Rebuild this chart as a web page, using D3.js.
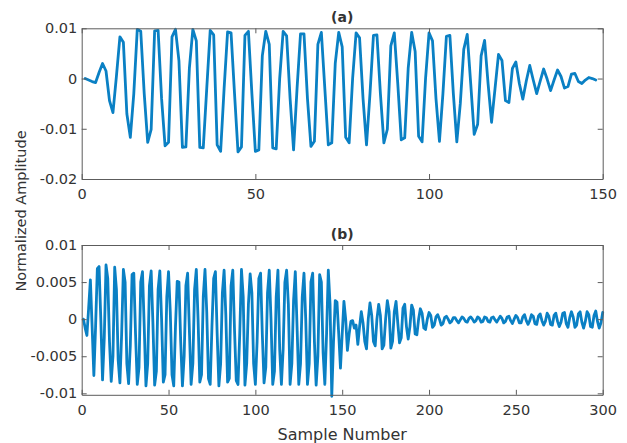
<!DOCTYPE html>
<html>
<head>
<meta charset="utf-8">
<script src="https://cdn.jsdelivr.net/npm/d3@7"></script>
<style>
  body { margin: 0; background: #fff; }
  svg { display: block; }
  text { font-family: "DejaVu Sans", sans-serif; fill: #333; }
</style>
</head>
<body>
<svg id="chart" width="627" height="443"></svg>
<script>
// Normalized amplitude per sample, stored in thousandths (x1e-3).
// Panel (a): samples 1..148
const amplitudeA = [
  0.0, -0.3, -0.6, -0.8, 1.2, 3.0, 1.5, -4.4, -6.8, 0.5,
  8.3, 7.2, -7.0, -11.7, -3.0, 9.8, 9.4, -3.0, -12.7, -10.1,
  9.5, 9.6, -4.0, -13.4, -12.7, 8.3, 9.8, 3.5, -13.7, -13.6,
  2.0, 9.8, 7.5, -13.7, -13.8, -2.0, 9.6, 8.7, -13.2, -14.5,
  -2.0, 9.3, 9.1, -3.0, -14.6, -13.6, 8.6, 9.4, -3.0, -14.5,
  -14.2, 4.5, 9.4, 6.8, -13.8, -14.0, 0.0, 9.4, 8.5, -4.0,
  -14.2, -2.0, 8.9, 8.9, -4.0, -13.5, -12.5, 6.8, 9.2, -2.0,
  -13.2, -12.8, 3.0, 9.2, 6.3, -11.7, -12.8, 0.0, 9.1, 8.1,
  -4.0, -13.2, -3.0, 8.6, 8.7, -3.0, -12.8, -10.1, 6.5, 9.1,
  -1.0, -12.2, -11.8, 2.0, 9.2, 5.4, -11.5, -12.6, 0.0, 9.1,
  7.5, -4.0, -12.5, -3.0, 8.4, 8.6, -3.0, -12.6, -5.0, 5.8,
  8.8, -1.0, -11.1, -9.1, 4.5, 7.6, -1.0, -8.7, -2.0, 4.8,
  3.6, -4.4, -4.8, 2.0, 3.3, -1.0, -4.1, -0.5, 2.6, -0.3,
  -3.0, -0.5, 1.9, -0.1, -2.4, -0.3, 1.7, 0.4, -1.9, -1.6,
  0.9, 1.0, -0.6, -1.0, -0.3, 0.2, 0.0, -0.3
];

// Panel (b): samples 1..300
const amplitudeB = [
  0.0, -1.2, -2.2, 1.5, 5.3, -1.0, -7.6, -1.0, 6.8, 7.1,
  0.0, -8.2, -2.5, 7.3, 5.5, -3.0, -8.4, -5.0, 7.0, 4.0,
  -5.5, -8.6, -2.0, 6.7, 5.0, -6.0, -8.7, -3.5, 6.0, 6.2,
  -2.0, -8.8, -6.5, 5.0, 6.4, -1.0, -9.0, -6.0, 4.5, 6.5,
  -0.5, -8.9, -7.0, 4.0, 6.5, 0.0, -8.5, -7.5, 3.0, 6.4,
  1.0, -7.5, -9.0, -1.0, 5.1, 5.0, -3.0, -9.0, -5.0, 4.5,
  6.2, -1.5, -8.8, -6.0, 4.0, 6.7, 0.0, -8.5, -7.5, 3.0,
  6.7, 1.0, -8.0, -8.8, -1.0, 5.5, 6.4, -2.0, -9.0, -6.0,
  3.5, 6.6, 0.5, -8.5, -8.0, 4.5, 6.6, -1.5, -8.3, -8.8,
  -2.0, 6.7, 3.0, -8.9, -6.0, 2.0, 6.1, 3.5, -6.0, -8.8,
  -3.0, 5.5, 6.2, -2.0, -8.6, -6.5, 3.5, 6.6, 0.0, -8.8,
  -7.0, 3.0, 6.6, -4.0, -8.8, -4.0, 5.0, 6.6, 2.0, -8.8,
  -6.0, 2.5, 6.4, -1.0, -8.8, -6.0, 3.0, 6.2, 0.0, -8.8,
  -6.0, 5.0, 6.2, -3.0, -8.9, -5.0, 6.0, 5.0, -4.5, -8.8,
  -2.0, 6.6, 2.0, -10.4, -3.0, 2.5, 2.3, -2.0, -6.6, -2.0,
  2.4, 0.0, -4.2, -2.0, -0.3, -0.2, -1.2, -0.8, -3.4, -1.0,
  1.0, -0.5, -3.0, -4.0, 0.0, 2.2, 0.5, -3.0, -3.6, 0.0,
  2.0, 0.5, -4.0, -3.5, 0.0, 2.5, 1.0, -3.9, -3.0, 1.0,
  2.4, -0.5, -3.2, -2.5, 1.5, 2.0, -1.0, -2.7, -1.0, 1.9,
  1.2, -2.0, -2.1, 0.0, 1.4, 0.8, -1.2, -1.4, 0.0, 0.9,
  0.5, -1.1, -0.8, 0.3, 0.6, 0.0, -0.8, -0.6, 0.2, 0.4,
  0.0, -0.5, -0.3, 0.2, 0.2, -0.2, -0.5, -0.1, 0.3, 0.1,
  -0.3, -0.4, 0.1, 0.3, 0.0, -0.4, -0.2, 0.3, 0.1, -0.4,
  -0.3, 0.3, 0.2, -0.3, -0.4, 0.2, 0.3, -0.1, -0.4, 0.0,
  0.4, 0.1, -0.5, -0.3, 0.3, 0.4, -0.2, -0.6, 0.0, 0.5,
  0.2, -0.5, -0.5, 0.3, 0.6, -0.2, -0.7, -0.2, 0.6, 0.4,
  -0.6, -0.7, 0.4, 0.7, -0.2, -0.8, -0.3, 0.8, 0.4, -0.7,
  -0.8, 0.5, 0.8, -0.3, -1.0, -0.4, 0.8, 0.9, -0.6, -1.1,
  0.2, 1.0, 0.3, -1.1, -0.8, 0.7, 1.0, -0.4, -1.2, -0.3,
  1.0, 0.6, -1.0, -1.1, 0.5, 1.1, -0.3, -1.2, -0.5, 0.9
];

// Axis ticks and their labels
const xTicksA = [0, 50, 100, 150];
const yTicksA = [-0.02, -0.01, 0, 0.01];
const yTickLabelsA = ["-0.02", "-0.01", "0", "0.01"];
const xTicksB = [0, 50, 100, 150, 200, 250, 300];
const yTicksB = [-0.01, -0.005, 0, 0.005, 0.01];
const yTickLabelsB = ["-0.01", "-0.005", "0", "0.005", "0.01"];

const titles = ["(a)", "(b)"];
const xLabel = "Sample Number";
const yLabel = "Normalized Amplitude";

const lineColor = "#0a80c4";
const axisColor = "#5c5c5c";

const svg = d3.select("#chart");

const plotLeft = 81.7, plotRight = 602.7;

const panels = [
  {
    values: amplitudeA, xMax: 150, yDomain: [-0.02, 0.01],
    top: 28.3, bottom: 179,
    xTicks: xTicksA, yTicks: yTicksA, yLabels: yTickLabelsA,
    title: titles[0], titleY: 22
  },
  {
    values: amplitudeB, xMax: 300, yDomain: [-0.0102, 0.01],
    top: 245, bottom: 394.8,
    xTicks: xTicksB, yTicks: yTicksB, yLabels: yTickLabelsB,
    title: titles[1], titleY: 239
  }
];

panels.forEach(p => {
  const x = d3.scaleLinear().domain([0, p.xMax]).range([plotLeft, plotRight]);
  const y = d3.scaleLinear().domain(p.yDomain).range([p.bottom, p.top]);
  const g = svg.append("g");

  // waveform
  const line = d3.line()
    .x((d, i) => x(i + 1))
    .y(d => y(d / 1000));
  g.append("path")
    .datum(p.values)
    .attr("fill", "none")
    .attr("stroke", lineColor)
    .attr("stroke-width", 2.8)
    .attr("stroke-linejoin", "round")
    .attr("stroke-linecap", "round")
    .attr("d", line);

  const tickLen = 5;
  const styleAxis = sel => {
    sel.select(".domain").attr("stroke", axisColor).attr("stroke-width", 1);
    sel.selectAll(".tick line").attr("stroke", axisColor).attr("stroke-width", 1);
    sel.selectAll(".tick text")
      .attr("fill", "#333")
      .style("font-family", '"DejaVu Sans", sans-serif')
      .style("font-size", "14.5px");
  };

  // bottom axis with labels
  g.append("g")
    .attr("transform", `translate(0,${p.bottom})`)
    .call(d3.axisBottom(x).tickValues(p.xTicks).tickFormat(d3.format("d"))
      .tickSizeInner(-tickLen).tickSizeOuter(0).tickPadding(10))
    .call(styleAxis);

  // top axis, ticks only
  g.append("g")
    .attr("transform", `translate(0,${p.top})`)
    .call(d3.axisTop(x).tickValues(p.xTicks).tickFormat("")
      .tickSizeInner(-tickLen).tickSizeOuter(0))
    .call(styleAxis);

  // left axis with labels
  g.append("g")
    .attr("transform", `translate(${plotLeft},0)`)
    .call(d3.axisLeft(y).tickValues(p.yTicks)
      .tickFormat((d, i) => p.yLabels[i])
      .tickSizeInner(-tickLen).tickSizeOuter(0).tickPadding(4.5))
    .call(styleAxis);

  // right axis, ticks only
  g.append("g")
    .attr("transform", `translate(${plotRight},0)`)
    .call(d3.axisRight(y).tickValues(p.yTicks).tickFormat("")
      .tickSizeInner(-tickLen).tickSizeOuter(0))
    .call(styleAxis);

  // panel title
  g.append("text")
    .attr("x", (plotLeft + plotRight) / 2)
    .attr("y", p.titleY)
    .attr("text-anchor", "middle")
    .style("font-weight", "bold")
    .style("font-size", "14px")
    .attr("fill", "#111")
    .text(p.title);
});

// shared axis labels
svg.append("text")
  .attr("x", (plotLeft + plotRight) / 2)
  .attr("y", 439.5)
  .attr("text-anchor", "middle")
  .style("font-size", "16px")
  .attr("fill", "#444")
  .text(xLabel);

svg.append("text")
  .attr("transform", "translate(26,211) rotate(-90)")
  .attr("text-anchor", "middle")
  .style("font-size", "14.5px")
  .attr("fill", "#444")
  .text(yLabel);
</script>
</body>
</html>
